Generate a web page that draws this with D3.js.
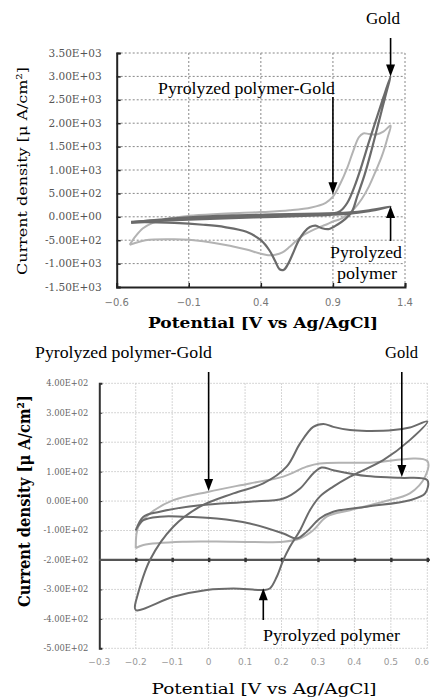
<!DOCTYPE html>
<html>
<head>
<meta charset="utf-8">
<script src="https://cdn.jsdelivr.net/npm/d3@7"></script>
<style>
  body { margin: 0; background: #fff; }
  svg { display: block; }
</style>
</head>
<body>
<div id="vis"></div>
<script>
// Cyclic voltammograms - two panels (wide scan, narrow scan)

const FRAME_WIDTH = 430;
const FRAME_HEIGHT = 697;

// ---- top panel data (V vs Ag/AgCl, uA/cm2) ----
const topXTicks = [-0.6, -0.1, 0.4, 0.9, 1.4];
const topYTicks = [-1500, -1000, -500, 0, 500, 1000, 1500, 2000, 2500, 3000, 3500];

const topGoldV = [-0.5, -0.3, -0.1, 0.1, 0.4, 0.7, 0.9, 0.95, 1.0, 1.05, 1.1, 1.15, 1.2, 1.25, 1.3,
                  1.27, 1.22, 1.17, 1.12, 1.07, 1.03, 0.98, 0.93, 0.87, 0.82, 0.78, 0.74, 0.7, 0.66, 0.62,
                  0.59, 0.56, 0.53, 0.5, 0.46, 0.4, 0.3, 0.15, 0.0, -0.2, -0.5];
const topGoldI = [-110, -70, -40, -10, 20, 40, 70, 120, 300, 650, 1100, 1600, 2080, 2550, 3000,
                  2650, 2050, 1450, 900, 450, 100, -60, -170, -262, -240, -190, -220, -330, -520, -800,
                  -1000, -1130, -1120, -950, -720, -500, -320, -220, -170, -130, -110];

const topPolyV = [-0.5, -0.3, -0.1, 0.2, 0.5, 0.8, 1.0, 1.15, 1.3,
                  1.15, 1.0, 0.8, 0.5, 0.2, -0.1, -0.3, -0.5];
const topPolyI = [-120, -60, -10, 30, 50, 70, 90, 140, 220,
                  120, 60, 30, 0, -30, -60, -90, -130];

const topMixV = [-0.51, -0.47, -0.42, -0.35, -0.25, -0.1, 0.1, 0.4, 0.6, 0.75, 0.85, 0.9, 0.95, 1.0, 1.04,
                 1.08, 1.11, 1.15, 1.2, 1.25, 1.3,
                 1.28, 1.24, 1.2, 1.15, 1.1, 1.05, 1.0, 0.95, 0.9, 0.85, 0.8, 0.75, 0.7, 0.65, 0.6,
                 0.55, 0.5, 0.45, 0.4, 0.3, 0.2, 0.0, -0.2, -0.4, -0.51];
const topMixI = [-600, -420, -250, -130, -40, 20, 60, 100, 140, 200, 300, 430, 700, 1050, 1400,
                 1700, 1780, 1770, 1760, 1820, 1950,
                 1700, 1300, 1000, 650, 380, 180, 40, -50, -100, -170, -230, -300, -380, -500, -640,
                 -760, -810, -820, -790, -700, -630, -520, -480, -500, -600];

// ---- bottom panel data ----
const botXTicks = [-0.3, -0.2, -0.1, 0, 0.1, 0.2, 0.3, 0.4, 0.5, 0.6];
const botYTicks = [-500, -400, -300, -200, -100, 0, 100, 200, 300, 400];

const botPolyV = [-0.2, -0.161, -0.097, -0.024, 0.068, 0.15, 0.214, 0.251, 0.287, 0.315, 0.342, 0.388, 0.434, 0.507, 0.552, 0.6,
                  0.552, 0.479, 0.388, 0.342, 0.305, 0.278, 0.251, 0.223, 0.205, 0.187, 0.168, 0.15, 0.068, -0.005, -0.097, -0.2, -0.2];
const botPolyI = [-342, -200, -87, -19, 26, 60, 117, 196, 252, 262, 252, 241, 238, 241, 250, 270,
                  207, 139, 83, 49, 15, -31, -99, -155, -200, -257, -297, -302, -297, -302, -325, -370, -342];

const botMixV = [-0.2, -0.193, -0.161, -0.097, 0, 0.113, 0.205, 0.269, 0.305, 0.434, 0.6,
                 0.594, 0.552, 0.479, 0.388, 0.324, 0.287, 0.251, 0.205, 0.068, -0.07, -0.179, -0.2];
const botMixI = [-160, -87, -42, 3, 32, 60, 83, 117, 128, 130, 136,
                 83, 26, -2, -31, -53, -99, -127, -138, -138, -138, -149, -160];

const botGoldV = [-0.2, -0.179, -0.134, -0.024, 0.113, 0.205, 0.251, 0.287, 0.31, 0.342, 0.434, 0.525, 0.6,
                  0.594, 0.552, 0.434, 0.342, 0.305, 0.269, 0.242, 0.205, 0.113, 0.022, -0.07, -0.134, -0.179, -0.2];
const botGoldI = [-100, -53, -36, -14, -2, 9, 43, 94, 114, 105, 85, 79, 71,
                  26, 3, -19, -36, -59, -104, -127, -110, -76, -59, -53, -53, -65, -98];

const DARK = "#6b6b6b";
const LIGHT = "#b3b3b3";

const svg = d3.select("#vis")
  .append("svg")
    .attr("width", FRAME_WIDTH)
    .attr("height", FRAME_HEIGHT);

// exponent style tick label, e.g. 3.50E+03
function expFmt(v) {
  const parts = v.toExponential(2).split("e");
  const sign = parts[1][0];
  const digits = parts[1].slice(1).padStart(2, "0");
  return parts[0] + "E" + sign + digits;
}

function arrow(x, yTail, yTip) {
  const dir = yTip > yTail ? 1 : -1;
  svg.append("line")
    .attr("x1", x).attr("x2", x)
    .attr("y1", yTail).attr("y2", yTip - dir * 10)
    .attr("stroke", "#000").attr("stroke-width", 1.6);
  svg.append("path")
    .attr("d", `M${x - 4.5},${yTip - dir * 12} L${x + 4.5},${yTip - dir * 12} L${x},${yTip} Z`)
    .attr("fill", "#000");
}

function label(x, y, txt, len) {
  svg.append("text")
    .attr("x", x).attr("y", y)
    .attr("font-family", "'Liberation Serif', serif")
    .attr("font-size", 16)
    .attr("textLength", len)
    .attr("lengthAdjust", "spacingAndGlyphs")
    .text(txt);
}

// ================= TOP PANEL =================
const T = {left: 116.7, right: 405, top: 53, bottom: 287};
const X_T = d3.scaleLinear().domain([-0.6, 1.4]).range([T.left, T.right]);
const Y_T = d3.scaleLinear().domain([-1500, 3500]).range([T.bottom, T.top]);

// grid
svg.append("g").selectAll("line")
  .data(topYTicks.slice(1))
  .enter().append("line")
    .attr("x1", T.left).attr("x2", T.right)
    .attr("y1", d => Y_T(d)).attr("y2", d => Y_T(d))
    .attr("stroke", "#888").attr("stroke-width", 1).attr("stroke-dasharray", "2,2");
svg.append("g").selectAll("line")
  .data(topXTicks.slice(1))
  .enter().append("line")
    .attr("x1", d => X_T(d)).attr("x2", d => X_T(d))
    .attr("y1", T.top).attr("y2", T.bottom)
    .attr("stroke", "#888").attr("stroke-width", 1).attr("stroke-dasharray", "2,2");

// axes
const leftT = svg.append("g")
  .attr("transform", `translate(${T.left},0)`)
  .call(d3.axisRight(Y_T).tickValues(topYTicks).tickSize(4).tickFormat(""));
leftT.select(".domain").attr("stroke", "#222").attr("stroke-width", 2);
leftT.selectAll(".tick line").attr("stroke", "#222").attr("stroke-width", 1.5);

const botT = svg.append("g")
  .attr("transform", `translate(0,${T.bottom})`)
  .call(d3.axisTop(X_T).tickValues(topXTicks).tickSize(4).tickFormat(""));
botT.select(".domain").attr("stroke", "#222").attr("stroke-width", 2);
botT.selectAll(".tick line").attr("stroke", "#222").attr("stroke-width", 1.5);

// tick labels
svg.append("g").selectAll("text")
  .data(topYTicks)
  .enter().append("text")
    .attr("x", 101.7).attr("y", d => Y_T(d)).attr("dy", "0.35em")
    .attr("text-anchor", "end")
    .attr("font-family", "'DejaVu Serif', serif").attr("font-size", 10.5)
    .attr("fill", "#555")
    .text(d => expFmt(d));
svg.append("g").selectAll("text")
  .data(topXTicks)
  .enter().append("text")
    .attr("x", d => X_T(d)).attr("y", 302).attr("dy", "0.35em")
    .attr("text-anchor", "middle")
    .attr("font-family", "'DejaVu Sans', sans-serif").attr("font-size", 10)
    .attr("fill", "#777")
    .text(d => d3.format("")(d));

// curves
const lineT = d3.line()
  .x(d => X_T(d[0])).y(d => Y_T(d[1]))
  .curve(d3.curveCatmullRom.alpha(0.5));

svg.append("path").datum(d3.zip(topMixV, topMixI))
  .attr("d", lineT).attr("fill", "none").attr("stroke", LIGHT).attr("stroke-width", 2);
svg.append("path").datum(d3.zip(topPolyV, topPolyI))
  .attr("d", lineT).attr("fill", "none").attr("stroke", DARK).attr("stroke-width", 2.2);
svg.append("path").datum(d3.zip(topGoldV, topGoldI))
  .attr("d", lineT).attr("fill", "none").attr("stroke", DARK).attr("stroke-width", 2.2);

// axis titles
svg.append("text")
  .attr("x", 263).attr("y", 328).attr("text-anchor", "middle")
  .attr("font-family", "'DejaVu Serif', serif").attr("font-weight", "bold").attr("font-size", 14)
  .attr("textLength", 230).attr("lengthAdjust", "spacingAndGlyphs")
  .text("Potential [V vs Ag/AgCl]");
svg.append("text")
  .attr("transform", "translate(27,171) rotate(-90)")
  .attr("text-anchor", "middle")
  .attr("font-family", "'DejaVu Serif', serif").attr("font-size", 13.5)
  .attr("textLength", 208).attr("lengthAdjust", "spacingAndGlyphs")
  .text("Current density [μ A/cm²]");

// annotations
label(366, 24, "Gold", 34);
arrow(X_T(1.3), 38, Y_T(3000));
label(158, 94, "Pyrolyzed polymer-Gold", 177);
arrow(X_T(0.9), 97, Y_T(480));
arrow(X_T(1.3), 241, Y_T(230));
label(330, 258, "Pyrolyzed", 72);
label(337, 279, "polymer", 60);

// ================= BOTTOM PANEL =================
const B = {left: 99.3, right: 427.3, top: 383.3, bottom: 648.3};
const X_B = d3.scaleLinear().domain([-0.3, 0.6]).range([B.left, B.right]);
const Y_B = d3.scaleLinear().domain([-500, 400]).range([B.bottom, B.top]);

svg.append("g").selectAll("line")
  .data(botYTicks)
  .enter().append("line")
    .attr("x1", B.left).attr("x2", B.right)
    .attr("y1", d => Y_B(d)).attr("y2", d => Y_B(d))
    .attr("stroke", "#c8c8c8").attr("stroke-width", 1).attr("stroke-dasharray", "1.5,1.5");
svg.append("g").selectAll("line")
  .data(botXTicks.slice(1))
  .enter().append("line")
    .attr("x1", d => X_B(d)).attr("x2", d => X_B(d))
    .attr("y1", B.top).attr("y2", B.bottom)
    .attr("stroke", "#c8c8c8").attr("stroke-width", 1).attr("stroke-dasharray", "1.5,1.5");

const leftB = svg.append("g")
  .attr("transform", `translate(${B.left},0)`)
  .call(d3.axisRight(Y_B).tickValues(botYTicks).tickSize(3).tickFormat(""));
leftB.select(".domain").attr("stroke", "#333").attr("stroke-width", 2);
leftB.selectAll(".tick line").attr("stroke", "#333");

// horizontal axis crossing at -200
const midB = svg.append("g")
  .attr("transform", `translate(0,${Y_B(-200)})`)
  .call(d3.axisBottom(X_B).tickValues(botXTicks.slice(1)).tickSize(0).tickFormat(""));
midB.select(".domain").attr("d", `M${B.left},0H${FRAME_WIDTH}`)
  .attr("stroke", "#555").attr("stroke-width", 2.2);
midB.selectAll(".tick").append("rect")
  .attr("x", -1.2).attr("y", -2.2).attr("width", 2.4).attr("height", 4.4).attr("fill", "#333");

svg.append("g").selectAll("text")
  .data(botYTicks)
  .enter().append("text")
    .attr("x", 88.3).attr("y", d => Y_B(d)).attr("dy", "0.35em")
    .attr("text-anchor", "end")
    .attr("font-family", "'DejaVu Serif', serif").attr("font-size", 8.3)
    .attr("fill", "#666")
    .text(d => expFmt(d));
svg.append("g").selectAll("text")
  .data(botXTicks)
  .enter().append("text")
    .attr("x", (d, i) => i === botXTicks.length - 1 ? FRAME_WIDTH - 1 : X_B(d))
    .attr("y", 662).attr("dy", "0.35em")
    .attr("text-anchor", (d, i) => i === botXTicks.length - 1 ? "end" : "middle")
    .attr("font-family", "'DejaVu Sans', sans-serif").attr("font-size", 9)
    .attr("fill", "#999")
    .text(d => d3.format("")(d));

const lineB = d3.line()
  .x(d => X_B(d[0])).y(d => Y_B(d[1]))
  .curve(d3.curveCatmullRom.alpha(0.5));

svg.append("path").datum(d3.zip(botMixV, botMixI))
  .attr("d", lineB).attr("fill", "none").attr("stroke", LIGHT).attr("stroke-width", 2);
svg.append("path").datum(d3.zip(botGoldV, botGoldI))
  .attr("d", lineB).attr("fill", "none").attr("stroke", DARK).attr("stroke-width", 2);
svg.append("path").datum(d3.zip(botPolyV, botPolyI))
  .attr("d", lineB).attr("fill", "none").attr("stroke", DARK).attr("stroke-width", 2);

svg.append("text")
  .attr("x", 264).attr("y", 694).attr("text-anchor", "middle")
  .attr("font-family", "'DejaVu Serif', serif").attr("font-size", 15)
  .attr("textLength", 225).attr("lengthAdjust", "spacingAndGlyphs")
  .text("Potential [V vs Ag/AgCl]");
svg.append("text")
  .attr("transform", "translate(30,501) rotate(-90)")
  .attr("text-anchor", "middle")
  .attr("font-family", "'DejaVu Serif', serif").attr("font-weight", "bold").attr("font-size", 17)
  .attr("textLength", 212).attr("lengthAdjust", "spacingAndGlyphs")
  .text("Current density [μ A/cm²]");

label(35, 358, "Pyrolyzed polymer-Gold", 177);
arrow(X_B(0), 372, Y_B(34));
label(385, 358, "Gold", 33);
arrow(X_B(0.53), 372, Y_B(82));
arrow(X_B(0.15), 620, Y_B(-296));
label(263, 641, "Pyrolyzed polymer", 137);
</script>
</body>
</html>
